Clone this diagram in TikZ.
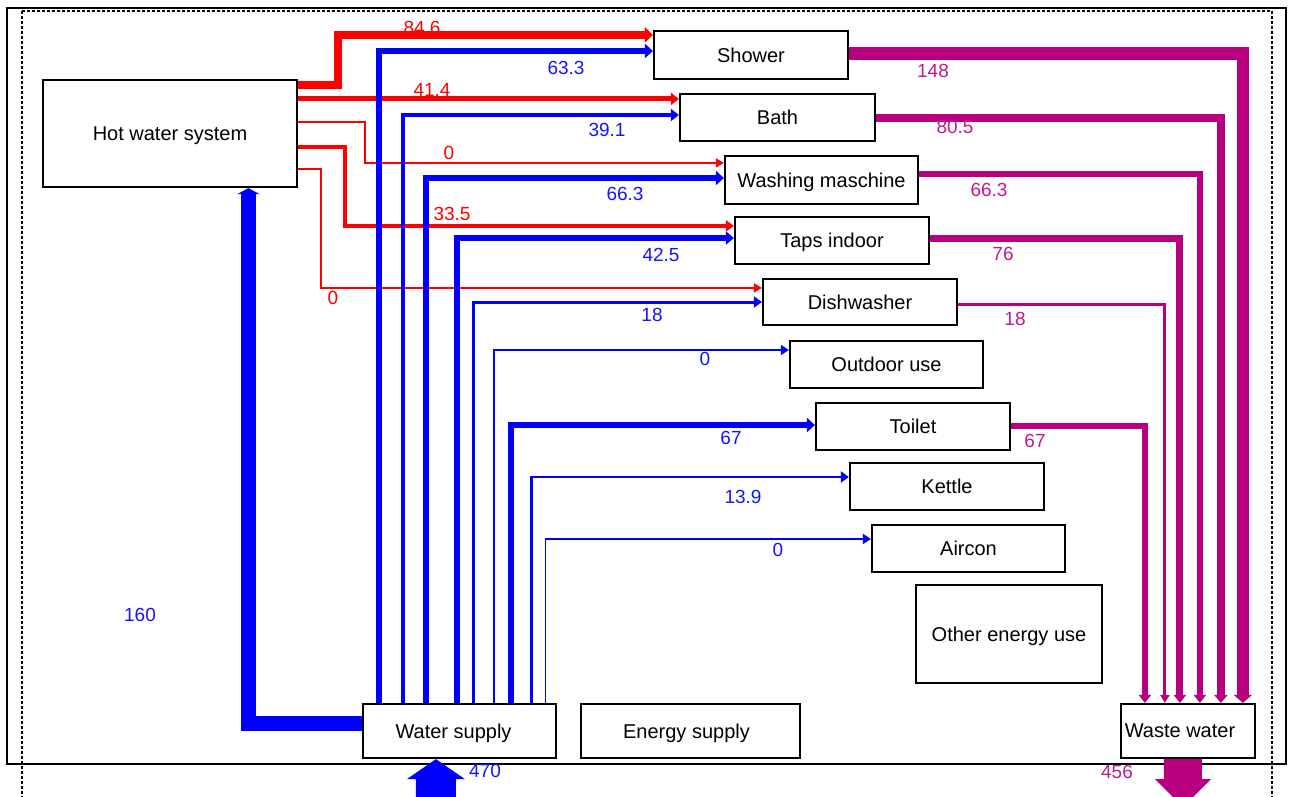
\documentclass[tikz,border=0pt]{standalone}
\usepackage{fontspec}
\setmainfont{Liberation Sans}
\usetikzlibrary{arrows.meta}
\definecolor{wmag}{RGB}{184,0,126}
\definecolor{lmag}{RGB}{196,24,140}
\definecolor{fblue}{RGB}{0,0,255}
\definecolor{lblue}{RGB}{20,20,255}
\definecolor{fred}{RGB}{255,0,0}
\tikzset{
  box/.style={draw=black, line width=2.2pt, fill=white, inner sep=0pt, text depth=0pt, font=\fontsize{20}{23}\selectfont},
  lab/.style={inner sep=0pt, font=\fontsize{19}{22}\selectfont},
  rlab/.style={lab, text=fred},
  blab/.style={lab, text=lblue},
  mlab/.style={lab, text=lmag},
  flow/.style n args={3}{draw=#1, line width=#2pt, -{Triangle[length=8pt,width=#3pt]}},
}
\begin{document}
\begin{tikzpicture}[x=1pt,y=-1pt]
\clip (0,0) rectangle (1290,796);
\fill[white] (0,0) rectangle (1290,796);
% frames
\draw[line width=1.8pt] (7,8) rectangle (1286,764);
\draw[line width=1.4pt, dash pattern=on 3pt off 2pt] (22,11) rectangle (1272,830);

% nodes
\node[box, minimum width=254pt, minimum height=107pt] (hws) at (170,133.5) {Hot water system};
\node[box, minimum width=194pt, minimum height=48pt] (shower) at (751,55) {Shower};
\node[box, minimum width=195pt, minimum height=47pt] (bath) at (777.5,117.5) {Bath};
\node[box, minimum width=193pt, minimum height=48pt] (wash) at (821.5,180) {Washing maschine};
\node[box, minimum width=194pt, minimum height=47pt] (taps) at (832,240.5) {Taps indoor};
\node[box, minimum width=194pt, minimum height=46pt] (dish) at (860,302) {Dishwasher};
\node[box, minimum width=193pt, minimum height=47pt] (outdoor) at (886.5,364.5) {Outdoor use};
\node[box, minimum width=194pt, minimum height=47pt] (toilet) at (913,426.5) {Toilet};
\node[box, minimum width=194pt, minimum height=47pt] (kettle) at (947,486.5) {Kettle};
\node[box, minimum width=193pt, minimum height=47pt] (aircon) at (968.5,548.5) {Aircon};
\node[box, minimum width=186pt, minimum height=98pt] (other) at (1009,634) {Other energy use};
\node[box, minimum width=193pt, minimum height=54pt] (ws) at (459.5,731) {Water supply\kern12pt};
\node[box, minimum width=219pt, minimum height=54pt] (es) at (690.5,731) {Energy supply\kern8pt};
\node[box, minimum width=134pt, minimum height=54pt] (ww) at (1188,731) {Waste water\kern16pt};

% red hot-water flows
\draw[flow={fred}{8}{15}] ([yshift=-6pt]hws.north east) -- ++(40,0) |- ([yshift=-5pt]shower.north west);
\draw[flow={fred}{5}{12}] ([yshift=-20pt]hws.north east) -- ([yshift=-6pt]bath.north west);
\draw[flow={fred}{1.8}{9}] ([yshift=-43pt]hws.north east) -- ++(67,0) |- ([yshift=-8pt]wash.north west);
\draw[flow={fred}{4.5}{11}] ([yshift=-68pt]hws.north east) -- ++(47,0) |- ([yshift=-10pt]taps.north west);
\draw[flow={fred}{1.8}{9}] ([yshift=-90pt]hws.north east) -- ++(23,0) |- ([yshift=-10pt]dish.north west);

% blue cold-water flows
\draw[flow={fblue}{6.5}{14}] ([xshift=17pt]ws.north west) |- ([yshift=4pt]shower.west);
\draw[flow={fblue}{4.5}{12}] ([xshift=41pt]ws.north west) |- ([yshift=2.5pt]bath.west);
\draw[flow={fblue}{6.5}{14}] ([xshift=64pt]ws.north west) |- ([yshift=2pt]wash.west);
\draw[flow={fblue}{5.5}{13}] ([xshift=95pt]ws.north west) |- ([yshift=2.5pt]taps.west);
\draw[flow={fblue}{3}{11}] ([xshift=112pt]ws.north west) |- (dish.west);
\draw[flow={fblue}{1.6}{10}] ([xshift=132pt]ws.north west) |- ([yshift=14.5pt]outdoor.west);
\draw[flow={fblue}{6.5}{14}] ([xshift=149pt]ws.north west) |- ([yshift=1.5pt]toilet.west);
\draw[flow={fblue}{2.6}{11}] ([xshift=169.5pt]ws.north west) |- ([yshift=9.5pt]kettle.west);
\draw[flow={fblue}{1.6}{10}] ([xshift=183.5pt]ws.north west) |- ([yshift=9.5pt]aircon.west);
\draw[draw=fblue, line width=15pt, -{Triangle[length=6pt,width=22pt]}] ([yshift=8pt]ws.west) -| ([xshift=206.5pt]hws.south west);

% magenta waste flows
\draw[flow={wmag}{12.5}{18}] ([yshift=1.5pt]shower.east) -| ([xshift=123pt]ww.north west);
\draw[flow={wmag}{7.5}{13}] ([yshift=-0.5pt]bath.east) -| ([xshift=101pt]ww.north west);
\draw[flow={wmag}{6.5}{12}] ([yshift=6pt]wash.east) -| ([xshift=80pt]ww.north west);
\draw[flow={wmag}{7}{12}] ([yshift=2.5pt]taps.east) -| ([xshift=60pt]ww.north west);
\draw[flow={wmag}{3}{9}] ([yshift=-2.5pt]dish.east) -| ([xshift=45pt]ww.north west);
\draw[flow={wmag}{6.5}{12}] ([yshift=0.5pt]toilet.east) -| ([xshift=25pt]ww.north west);

% big in/out arrows
\fill[fblue] ([xshift=74pt]ws.south west) -- ++(29,20) -- ++(-9,0) -- ++(0,30) -- ++(-40,0) -- ++(0,-30) -- ++(-9,0) -- cycle;
\fill[wmag] ([xshift=44pt]ww.south west) -- ++(0,20) -- ++(-9,0) -- ++(28,28) -- ++(28,-28) -- ++(-9,0) -- ++(0,-20) -- cycle;

% labels
\node[rlab] (r1) at (422,28) {84.6};
\node[rlab] (r2) at (432,90) {41.4};
\node[rlab] (r3) at (449,153) {0};
\node[rlab] (r4) at (452,214) {33.5};
\node[rlab] (r5) at (333,298) {0};

\node[blab] (b1) at (566,68) {63.3};
\node[blab] (b2) at (607,130) {39.1};
\node[blab] (b3) at (625,194) {66.3};
\node[blab] (b4) at (661,255) {42.5};
\node[blab] (b5) at (652,315) {18};
\node[blab] (b6) at (705,359) {0};
\node[blab] (b7) at (731,438) {67};
\node[blab] (b8) at (743,497) {13.9};
\node[blab] (b9) at (778,550) {0};
\node[blab] (b10) at (140,615) {160};
\node[blab] (b11) at (485,771) {470};

\node[mlab] (m1) at (933,71) {148};
\node[mlab] (m2) at (955,127) {80.5};
\node[mlab] (m3) at (989,190) {66.3};
\node[mlab] (m4) at (1003,254) {76};
\node[mlab] (m5) at (1015,319) {18};
\node[mlab] (m6) at (1035,441) {67};
\node[mlab] (m7) at (1117,772) {456};
\end{tikzpicture}
\end{document}
